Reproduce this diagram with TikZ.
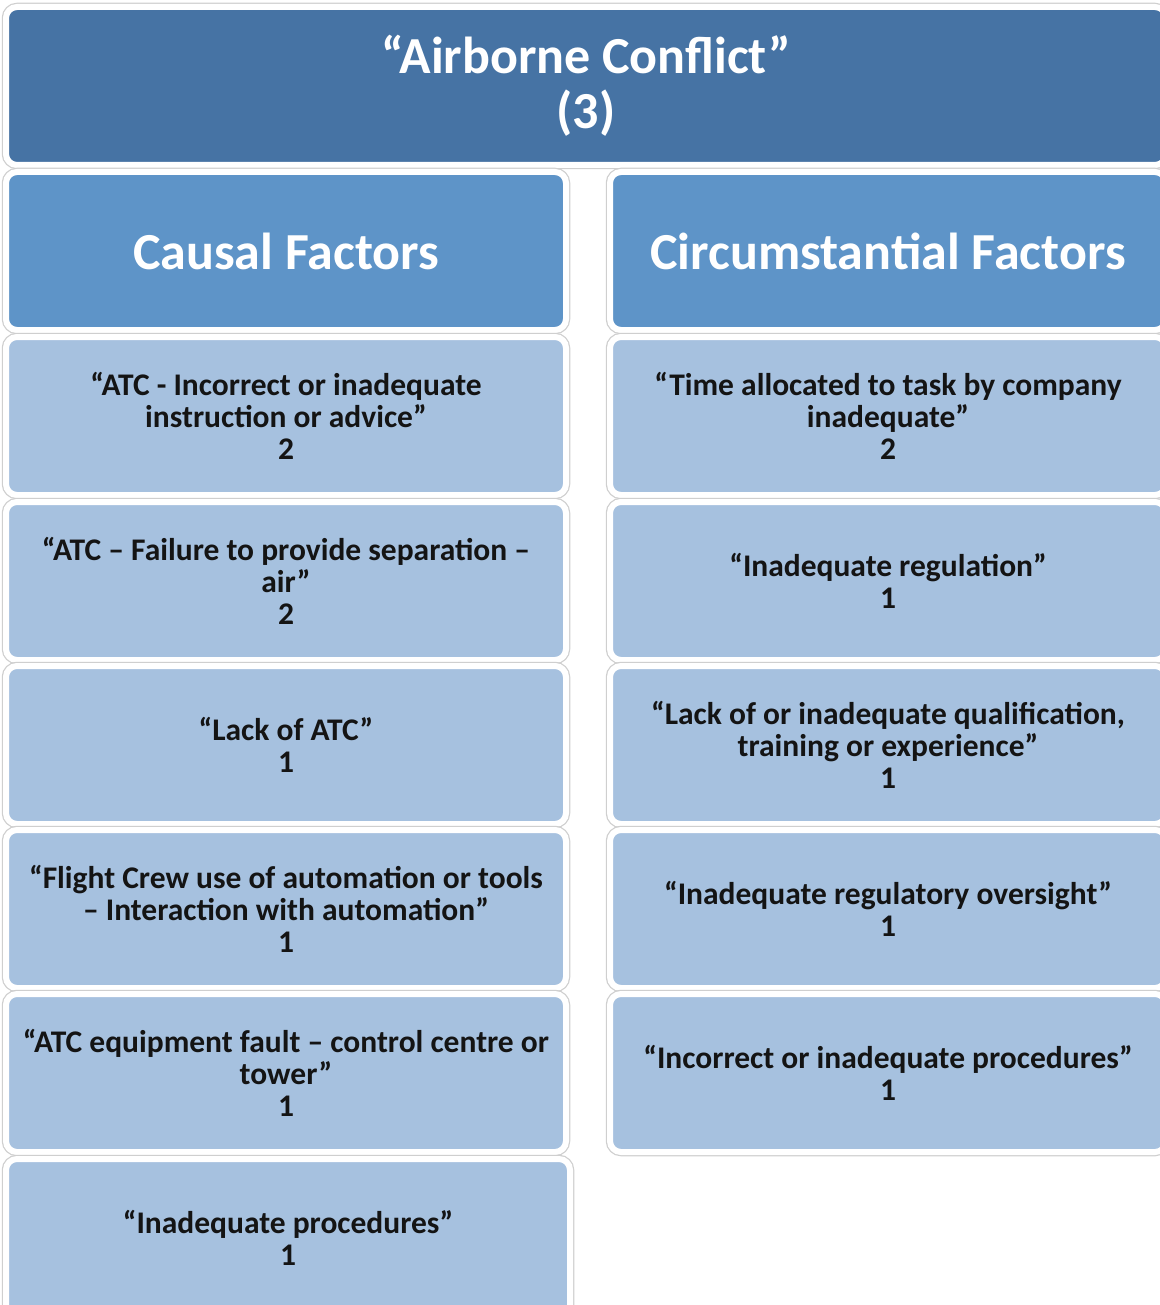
\documentclass[tikz,border=0pt]{standalone}
\usepackage{fontspec}
\setmainfont{Carlito}
\definecolor{titleblue}{HTML}{4673A4}
\definecolor{headblue}{HTML}{5E94C8}
\definecolor{cellblue}{HTML}{A6C1DF}
\definecolor{ringgray}{HTML}{CFCFCF}
\definecolor{inkdark}{HTML}{141414}

\begin{document}
\begin{tikzpicture}[x=1pt, y=-1pt,
    box/.style={rectangle, rounded corners=11pt, inner sep=0pt, align=center,
      draw=white, line width=6pt, preaction={draw=ringgray, line width=8.5pt}},
    titlebox/.style={box, fill=titleblue, text=white, minimum width=1160pt, minimum height=158pt,
      font=\fontsize{52}{55}\selectfont\bfseries},
    headbox/.style={box, fill=headblue, text=white, minimum height=158pt,
      font=\fontsize{52}{55}\selectfont\bfseries},
    cellbox/.style={box, fill=cellblue, text=inkdark, minimum height=158pt,
      font=\fontsize{31.5}{32}\selectfont\bfseries},
    leftcol/.style={minimum width=560pt},
    rightcol/.style={minimum width=556pt}]

  %% ==== title ====
  \node[titlebox] (title) at (586,86) {“Airborne Conflict”\\(3)};

  %% ==== column heads ====
  \node[headbox, leftcol]  (causal) at (286,251) {Causal Factors};
  \node[headbox, rightcol] (circum) at (888,251) {Circumstantial Factors};

  %% ==== causal factors (left) ====
  \node[cellbox, leftcol] (c1) at (286,416)  {“ATC - Incorrect or inadequate\\instruction or advice”\\2};
  \node[cellbox, leftcol] (c2) at (286,581)  {“ATC – Failure to provide separation –\\air”\\2};
  \node[cellbox, leftcol] (c3) at (286,745)  {“Lack of ATC”\\1};
  \node[cellbox, leftcol] (c4) at (286,909)  {“Flight Crew use of automation or tools\\– Interaction with automation”\\1};
  \node[cellbox, leftcol] (c5) at (286,1073) {“ATC equipment fault – control centre or\\tower”\\1};
  \node[cellbox, minimum width=564pt] (c6) at (288,1238) {“Inadequate procedures”\\1};

  %% ==== circumstantial factors (right) ====
  \node[cellbox, rightcol] (r1) at (888,416)  {“Time allocated to task by company\\inadequate”\\2};
  \node[cellbox, rightcol] (r2) at (888,581)  {“Inadequate regulation”\\1};
  \node[cellbox, rightcol] (r3) at (888,745)  {“Lack of or inadequate qualification,\\training or experience”\\1};
  \node[cellbox, rightcol] (r4) at (888,909)  {“Inadequate regulatory oversight”\\1};
  \node[cellbox, rightcol] (r5) at (888,1073) {“Incorrect or inadequate procedures”\\1};

  % fix the canvas to the reference frame
  \pgfresetboundingbox
  \path[use as bounding box] (0,0) rectangle (1159,1305);
\end{tikzpicture}
\end{document}
